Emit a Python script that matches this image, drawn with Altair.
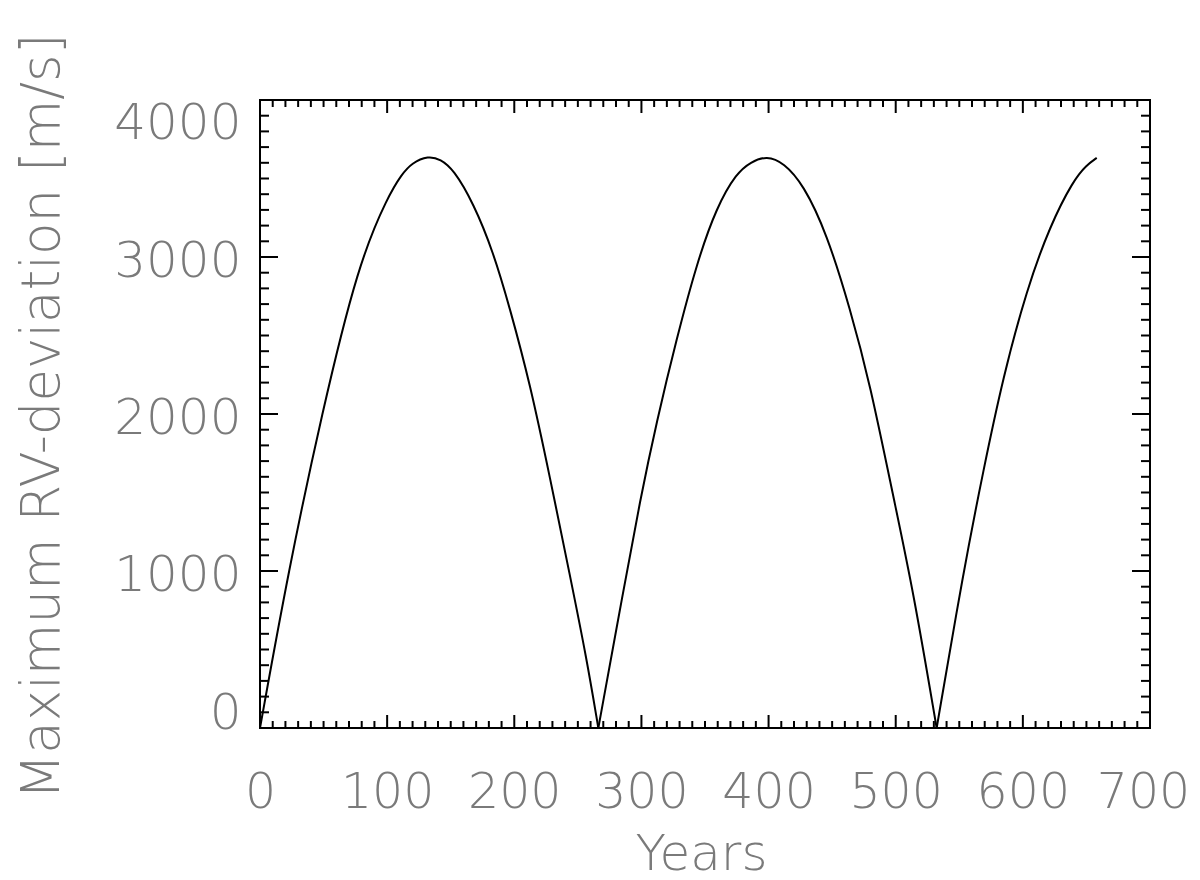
import altair as alt
import pandas as pd

# --- data (years, max RV deviation in m/s), one list per arch ---
arch1_year = [0, 22.3, 48.5, 77.3, 100.9, 111.4, 119.3, 132.4, 142.0, 152.1, 167.8, 183.5, 196.6, 212.4, 228.1, 243.8, 256.9, 266.1]
arch1_rv = [0, 1000, 2000, 2960, 3391, 3525, 3598, 3645, 3622, 3559, 3344, 3032, 2672, 2193, 1594, 970, 443, 0]

arch2_year = [266.1, 285.8, 298.9, 312.0, 327.7, 343.5, 359.2, 374.9, 386.0, 398.5, 412.0, 427.3, 445.7, 464.1, 479.8, 498.1, 513.8, 532.2]
arch2_rv = [0, 874, 1450, 1953, 2480, 2960, 3320, 3536, 3605, 3645, 3600, 3463, 3152, 2672, 2193, 1473, 874, 0]

arch3_year = [532.2, 553.2, 568.9, 584.6, 603.0, 621.4, 639.7, 650.0, 658.1]
arch3_rv = [0, 994, 1641, 2240, 2792, 3200, 3488, 3585, 3631]

x_tick_labels = [0, 100, 200, 300, 400, 500, 600, 700]
y_tick_labels = [0, 1000, 2000, 3000, 4000]
x_minor = [v for v in range(0, 701, 10) if v % 100 != 0]
y_minor = [v for v in range(0, 4001, 100) if v % 1000 != 0]

rows = []
for name, ys, vs in (("a1", arch1_year, arch1_rv), ("a2", arch2_year, arch2_rv), ("a3", arch3_year, arch3_rv)):
    for y, v in zip(ys, vs):
        rows.append({"year": y, "rv": v, "arch": name})
df = pd.DataFrame(rows)

W, H = 890, 628
FONT = "DejaVu Sans"
TXT = "#7a7a7a"

xscale = alt.Scale(domain=[0, 700], nice=False, zero=False)
yscale = alt.Scale(domain=[0, 4000], nice=False, zero=False)

xaxis = alt.Axis(
    title="Years", values=x_tick_labels, format="d", ticks=False, tickSize=0, domain=False, grid=False,
    labelOverlap=False, labelFlush=False,
    labelOffset={"condition": {"test": "datum.value == 700", "value": -7}, "value": 0},
    labelFont=FONT, labelFontSize=49, labelFontWeight=200, labelColor=TXT,
    labelPadding=79, labelBaseline="alphabetic",
    titleFont=FONT, titleFontSize=50, titleFontWeight=200, titleColor=TXT,
    titleX=441, titleY=141, titleBaseline="alphabetic",
)
yaxis = alt.Axis(
    title="Maximum RV-deviation [m/s]", values=y_tick_labels, format="d", ticks=False, tickSize=0,
    domain=False, grid=False, labelOverlap=False, labelFlush=True, labelFlushOffset=6, labelOffset=4,
    labelFont=FONT, labelFontSize=50, labelFontWeight=200, labelColor=TXT, labelPadding=19,
    titleFont=FONT, titleFontSize=53, titleFontWeight=200, titleColor=TXT,
    titleX=-202, titleY=316, titleBaseline="alphabetic", titleAngle=270,
)

line = alt.Chart(df).mark_line(color="black", strokeWidth=2, interpolate="basis").encode(
    x=alt.X("year:Q", scale=xscale, axis=xaxis),
    y=alt.Y("rv:Q", scale=yscale, axis=yaxis),
    detail="arch:N",
)

def xticks(vals, length):
    d = pd.DataFrame({"year": vals})
    bottom = alt.Chart(d).mark_rule(color="black", strokeWidth=2).encode(
        x=alt.X("year:Q", scale=xscale, axis=xaxis), y=alt.value(H), y2=alt.value(H - length))
    top = alt.Chart(d).mark_rule(color="black", strokeWidth=2).encode(
        x=alt.X("year:Q", scale=xscale, axis=xaxis), y=alt.value(0), y2=alt.value(length))
    return [bottom, top]

def yticks(vals, length):
    d = pd.DataFrame({"rv": vals})
    left = alt.Chart(d).mark_rule(color="black", strokeWidth=2).encode(
        y=alt.Y("rv:Q", scale=yscale, axis=yaxis), x=alt.value(0), x2=alt.value(length))
    right = alt.Chart(d).mark_rule(color="black", strokeWidth=2).encode(
        y=alt.Y("rv:Q", scale=yscale, axis=yaxis), x=alt.value(W), x2=alt.value(W - length))
    return [left, right]

layers = [line] + xticks(x_minor, 7) + xticks(x_tick_labels, 13) + yticks(y_minor, 9) + yticks(y_tick_labels, 18)

chart = alt.layer(*layers).properties(
    width=W, height=H,
    padding={"left": 252, "top": 92, "right": 42, "bottom": 152},
    autosize=alt.AutoSizeParams(type="none"),
    background="white",
).configure_view(stroke="black", strokeWidth=2)

chart.save("out.html", embed_options={"renderer": "svg", "actions": False})
